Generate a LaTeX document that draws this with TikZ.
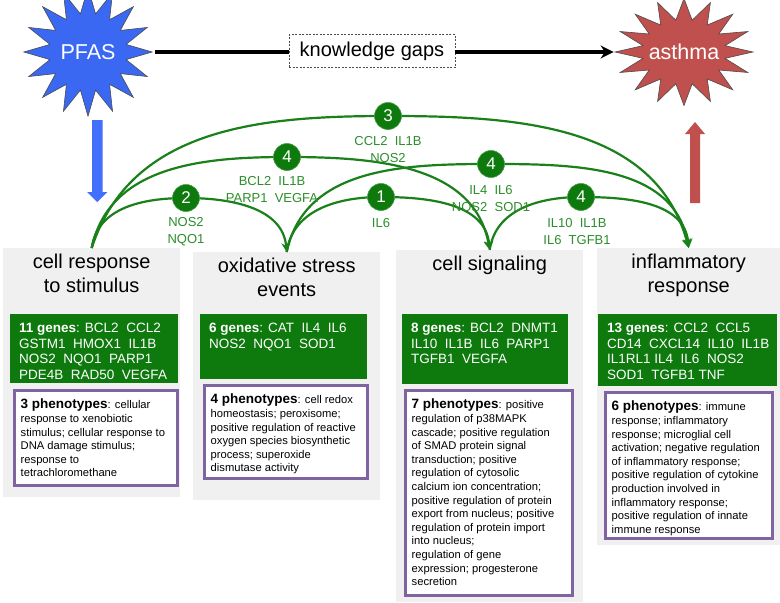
\documentclass[tikz,border=0pt]{standalone}
\usepackage{fontspec}
\setmainfont{Liberation Sans}
\usetikzlibrary{shapes.geometric, positioning, arrows.meta}
\definecolor{pfasblue}{RGB}{58,104,242}
\definecolor{arrowblue}{RGB}{66,112,250}
\definecolor{asthmared}{RGB}{192,80,77}
\definecolor{genegreen}{RGB}{14,122,14}
\definecolor{arcgreen}{RGB}{26,128,26}
\definecolor{labelgreen}{RGB}{44,142,44}
\definecolor{panelgray}{RGB}{240,240,240}
\definecolor{phenopurple}{RGB}{128,100,162}
\newcommand{\genehead}[1]{{\bfseries #1}}
\newcommand{\phenhead}[1]{{\fontsize{13.5}{13.6}\selectfont\bfseries #1}}
\tikzset{
    x=1pt, y=1pt, % one unit is one pixel of the reference
    >={Stealth[length=9pt,width=9pt]}, % arrow heads of the green arcs
    panel/.style={fill=panelgray, anchor=north west, inner sep=0},
    genebox/.style={fill=genegreen, anchor=north west, inner sep=0},
    phenobox/.style={draw=phenopurple, line width=3pt, fill=white, anchor=north west, inner sep=0},
    burst/.style={star, star points=16, star point ratio=1.65, draw=black!70, line width=0.6pt, inner sep=0, text=white, font=\fontsize{21.5}{21.5}\selectfont},
}
\begin{document}
\begin{tikzpicture}[
    paneltitle/.style={font=\fontsize{20}{24}\selectfont, align=center, inner sep=0},
    genetext/.style={font=\fontsize{13.5}{15.6}\selectfont, text=white, align=left, inner sep=0},
    phentext/.style={font=\fontsize{11.2}{13.6}\selectfont, align=left, inner sep=0},
    numcirc/.style={circle, fill=genegreen, draw=genegreen!75!white, line width=0.6pt, minimum size=27, inner sep=0, text=white, font=\fontsize{17}{17}\selectfont},
    circlabel/.style={font=\fontsize{13}{17}\selectfont, text=labelgreen, align=center, inner sep=0},
    linkarc/.style={draw=arcgreen, line width=2.2pt, ->},
]
\fill[white] (0,0) rectangle (780,-603);
\useasboundingbox (0,0) rectangle (780,-603);

% the four panels
\node[panel, minimum width=177, minimum height=249] (p1) at (3,-248) {};
\node[panel, minimum width=187, minimum height=248] (p2) at (193,-252) {};
\node[panel, minimum width=187, minimum height=352] (p3) at (396,-250) {};
\node[panel, minimum width=183, minimum height=297] (p4) at (597,-248) {};

\node[paneltitle, below=6pt of p1.north] (t1) {cell response\\to stimulus};
\node[paneltitle, below=6pt of p2.north] (t2) {oxidative stress\\events};
\node[paneltitle, below=6pt of p3.north] (t3) {cell signaling};
\node[paneltitle, below=6pt of p4.north] (t4) {inflammatory\\response};

% genes
\node[genebox, minimum width=168, minimum height=69] (g1) at (10,-314) {};
\node[genebox, minimum width=167, minimum height=65] (g2) at (200,-314) {};
\node[genebox, minimum width=166, minimum height=70] (g3) at (402,-314) {};
\node[genebox, minimum width=179, minimum height=72] (g4) at (598,-314) {};

\node[genetext, below right=9pt and 9pt of g1.north west] (gt1)
    {\genehead{11 genes}: BCL2~~CCL2\\GSTM1~~HMOX1~~IL1B\\NOS2~~NQO1~~PARP1\\PDE4B~~RAD50~~VEGFA};
\node[genetext, below right=9pt and 9pt of g2.north west] (gt2)
    {\genehead{6 genes}: CAT~~IL4~~IL6\\NOS2~~NQO1~~SOD1};
\node[genetext, below right=9pt and 9pt of g3.north west] (gt3)
    {\genehead{8 genes}: BCL2~~DNMT1\\IL10~~IL1B~~IL6~~PARP1\\TGFB1~~VEGFA};
\node[genetext, below right=9pt and 9pt of g4.north west] (gt4)
    {\genehead{13 genes}: CCL2~~CCL5\\CD14~~CXCL14~~IL10~~IL1B\\IL1RL1 IL4~~IL6~~NOS2\\SOD1~~TGFB1 TNF};

% phenotypes
\node[phenobox, minimum width=163, minimum height=95] (w1) at (13,-389) {};
\node[phenobox, minimum width=163, minimum height=93] (w2) at (203,-384) {};
\node[phenobox, minimum width=167, minimum height=205] (w3) at (404,-389) {};
\node[phenobox, minimum width=167, minimum height=146] (w4) at (604,-391) {};

\node[phentext, below right=10pt and 7.5pt of w1.north west] (wt1)
    {\phenhead{3 phenotypes}: cellular\\response to xenobiotic\\stimulus; cellular response to\\DNA damage stimulus;\\response to\\tetrachloromethane};
\node[phentext, below right=10pt and 7.5pt of w2.north west] (wt2)
    {\phenhead{4 phenotypes}: cell redox\\homeostasis; peroxisome;\\positive regulation of reactive\\oxygen species biosynthetic\\process; superoxide\\dismutase activity};
\node[phentext, below right=10pt and 7.5pt of w3.north west] (wt3)
    {\phenhead{7 phenotypes}: positive\\regulation of p38MAPK\\cascade; positive regulation\\of SMAD protein signal\\transduction; positive\\regulation of cytosolic\\calcium ion concentration;\\positive regulation of protein\\export from nucleus; positive\\regulation of protein import\\into nucleus;\\regulation of gene\\expression; progesterone\\secretion};
\node[phentext, below right=10pt and 7.5pt of w4.north west] (wt4)
    {\phenhead{6 phenotypes}: immune\\response; inflammatory\\response; microglial cell\\activation; negative regulation\\of inflammatory response;\\positive regulation of cytokine\\production involved in\\inflammatory response;\\positive regulation of innate\\immune response};

% shared genes between panels
\coordinate (k2) at (186,-198);
\coordinate (k4a) at (287,-157);
\coordinate (k3) at (388,-116);
\coordinate (k1) at (381,-197);
\coordinate (k4b) at (491,-164);
\coordinate (k4c) at (581,-197);

\path[linkarc] (p1.north) to[out=82,in=180] (k2) to[out=0,in=95] (p2.north);
\path[linkarc] (p1.north) to[out=78,in=180] (k4a) to[out=0,in=100] (p3.north);
\path[linkarc] (p1.north) to[out=72,in=180] (k3) to[out=0,in=105] (p4.north);
\path[linkarc] (p2.north) to[out=82,in=180] (k1) to[out=0,in=95] (p3.north);
\path[linkarc] (p2.north) to[out=78,in=180] (k4b) to[out=0,in=100] (p4.north);
\path[linkarc] (p3.north) to[out=82,in=180] (k4c) to[out=0,in=95] (p4.north);

\node[numcirc] (n2) at (k2) {2};
\node[numcirc] (n4a) at (k4a) {4};
\node[numcirc] (n3) at (k3) {3};
\node[numcirc] (n1) at (k1) {1};
\node[numcirc] (n4b) at (k4b) {4};
\node[numcirc] (n4c) at (k4c) {4};

\node[circlabel, below=5pt of n2] (l2) {NOS2\\NQO1};
\node[circlabel, below=5pt of n4a, xshift=-15pt] (l4a) {BCL2~~IL1B\\PARP1~~VEGFA};
\node[circlabel, below=6pt of n3] (l3) {CCL2~~IL1B\\NOS2};
\node[circlabel, below=7pt of n1] (l1) {IL6};
\node[circlabel, below=7pt of n4b] (l4b) {IL4~~IL6\\NOS2~~SOD1};
\node[circlabel, below=7pt of n4c, xshift=-4pt] (l4c) {IL10~~IL1B\\IL6~~TGFB1};

% exposure and outcome
\node[burst, fill=pfasblue, minimum size=110] (pfas) at (88,-52) {PFAS};
\begin{scope}[shift={(684,-52)}, xscale=1.29]
    \node[burst, fill=asthmared, minimum size=107, transform shape] (asthma) at (0,0) {};
\end{scope}
\node[text=white, inner sep=0, font=\fontsize{21.5}{21.5}\selectfont] (asthmatext) at (asthma) {asthma};

\node[draw=black!70, dash pattern=on 2pt off 1.5pt, line width=0.8pt, fill=white, minimum width=166, minimum height=33, inner sep=0, font=\fontsize{20}{24}\selectfont] (gaps) at (372,-51) {knowledge gaps};

\draw[line width=4pt, shorten <=2pt] (pfas.east) -- (pfas.east -| gaps.west);
\draw[line width=4pt, -{Stealth[length=13pt,width=13pt]}] (gaps.east |- asthma.west) -- (asthma.west);

% block arrows
\fill[arrowblue] (92,-120) -- (102.5,-120) -- (102.5,-192) -- (107.5,-192) -- (97.25,-202) -- (87,-192) -- (92,-192) -- cycle;
\fill[asthmared] (690,-203) -- (700,-203) -- (700,-134) -- (705,-134) -- (695,-122) -- (685,-134) -- (690,-134) -- cycle;
\end{tikzpicture}
\end{document}
